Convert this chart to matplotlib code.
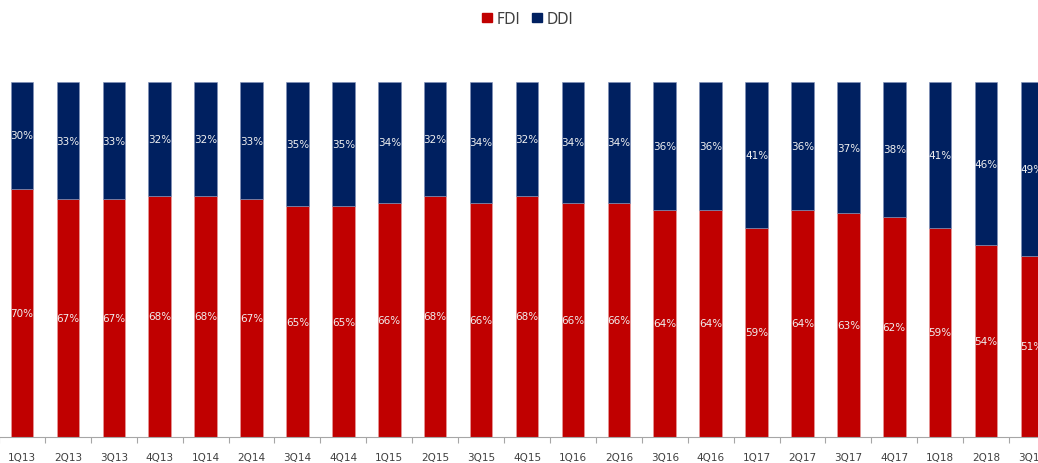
import numpy as np
import matplotlib
matplotlib.use("Agg")
import matplotlib.pyplot as plt
from matplotlib.patches import Patch

quarters = ["1Q13", "2Q13", "3Q13", "4Q13", "1Q14", "2Q14", "3Q14", "4Q14",
            "1Q15", "2Q15", "3Q15", "4Q15", "1Q16", "2Q16", "3Q16", "4Q16",
            "1Q17", "2Q17", "3Q17", "4Q17", "1Q18", "2Q18", "3Q18"]
fdi = [70, 67, 67, 68, 68, 67, 65, 65, 66, 68, 66, 68, 66, 66, 64, 64,
       59, 64, 63, 62, 59, 54, 51]
ddi = [30, 33, 33, 32, 32, 33, 35, 35, 34, 32, 34, 32, 34, 34, 36, 36,
       41, 36, 37, 38, 41, 46, 49]

RED = "#C00000"
NAVY = "#002060"

fig = plt.figure(figsize=(10.38, 4.64), dpi=100)
# axes spills a little past the figure edges, like the cropped original
ax = fig.add_axes([-1 / 1038, 26 / 464, 1056 / 1038, 355 / 464])

x = np.arange(len(quarters))
f = np.array(fdi, dtype=float)
d = np.array(ddi, dtype=float)
tot = f + d
fs = f / tot
ds = d / tot

w = 0.49
ax.bar(x, fs, w, color=RED, edgecolor="#e8a0a0", linewidth=0.4)
ax.bar(x, ds, w, bottom=fs, color=NAVY, edgecolor="#8090b8", linewidth=0.4)

for i in range(len(x)):
    ax.text(x[i], fs[i] / 2, f"{fdi[i]}%", ha="center", va="center",
            color="#f0f0f0", fontsize=7.5)
    ax.text(x[i], fs[i] + ds[i] / 2, f"{ddi[i]}%", ha="center", va="center",
            color="#f0f0f0", fontsize=7.5)

ax.set_xlim(-0.5, len(x) - 0.5)
ax.set_ylim(0, 1)
ax.set_yticks([])
for s in ["top", "right", "left"]:
    ax.spines[s].set_visible(False)
ax.spines["bottom"].set_color("#a6a6a6")
ax.spines["bottom"].set_linewidth(0.8)

ax.set_xticks(x)
ax.set_xticklabels(quarters, fontsize=7.5, color="#404040")
ax.tick_params(axis="x", length=0, pad=11)
ax.set_xticks(np.arange(len(x) + 1) - 0.5, minor=True)
ax.tick_params(axis="x", which="minor", length=4, color="#a6a6a6", width=0.8)

handles = [Patch(color=RED, label="FDI"), Patch(color=NAVY, label="DDI")]
fig.legend(handles=handles, loc="center", bbox_to_anchor=(528 / 1038, 1 - 19 / 464),
           ncol=2, frameon=False, fontsize=10.5, handlelength=0.65, handleheight=0.65,
           handletextpad=0.35, columnspacing=0.8, labelcolor="#404040")

fig.savefig("out.png", dpi=100)
